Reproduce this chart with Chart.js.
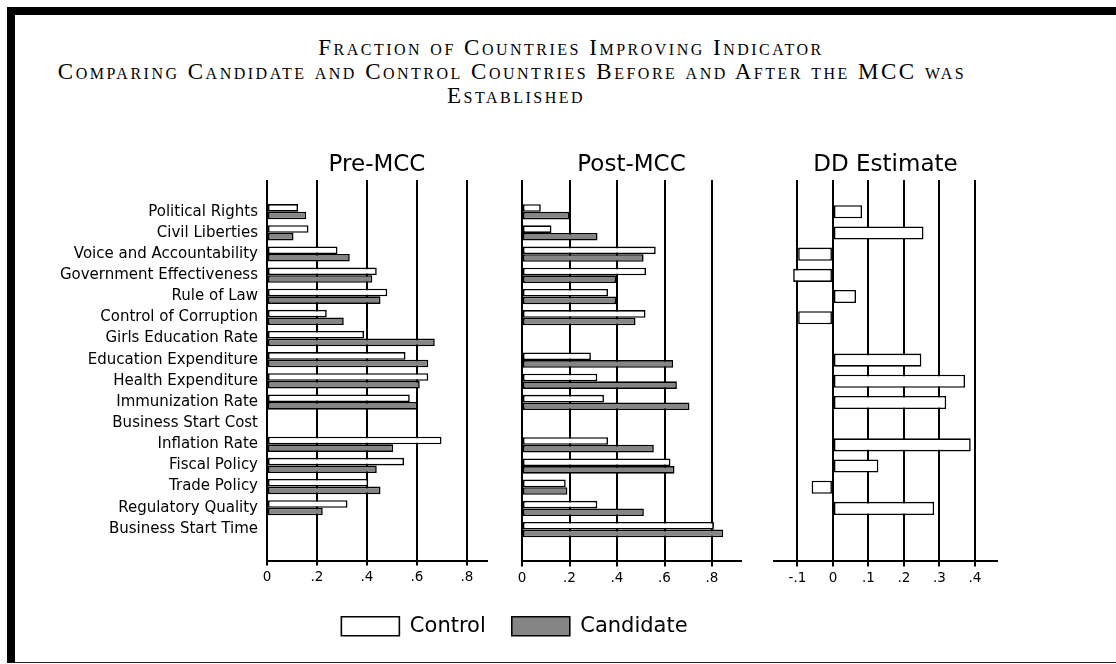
<!DOCTYPE html>
<html>
<head>
<meta charset="utf-8">
<script src="https://cdn.jsdelivr.net/npm/chart.js@4.4.1/dist/chart.umd.min.js"></script>
<style>
  body { margin: 0; background: #fff; width: 1116px; height: 664px; overflow: hidden; position: relative; }
  .frame { position: absolute; left: 7px; top: 7px; width: 1200px; height: 656px; box-sizing: border-box;
           border-top: 8px solid #000; border-left: 8px solid #000; border-bottom: 1px solid #222; }
  .title { position: absolute; font-family: "Liberation Serif", serif; font-variant: small-caps; font-size: 23px;
           letter-spacing: 2.5px; line-height: 24px; white-space: nowrap; transform: translateX(-50%); color: #000; }
  .box { position: absolute; }
</style>
</head>
<body>
<div class="frame"></div>
<div class="title" style="left:571px; top:36px">Fraction of Countries Improving Indicator</div>
<div class="title" style="left:512px; top:60px">Comparing Candidate and Control Countries Before and After the MCC was</div>
<div class="title" style="left:516px; top:84px">Established</div>

<div class="box" style="left:0px; top:150px; width:1029px; height:500px"><canvas id="pre"></canvas></div>
<div class="box" style="left:502px; top:150px; width:259px; height:442px"><canvas id="post"></canvas></div>
<div class="box" style="left:754px; top:150px; width:263px; height:442px"><canvas id="dd"></canvas></div>

<script>
const categories = ['Political Rights', 'Civil Liberties', 'Voice and Accountability', 'Government Effectiveness',
  'Rule of Law', 'Control of Corruption', 'Girls Education Rate', 'Education Expenditure', 'Health Expenditure',
  'Immunization Rate', 'Business Start Cost', 'Inflation Rate', 'Fiscal Policy', 'Trade Policy',
  'Regulatory Quality', 'Business Start Time'];

const seriesNames = ['Control', 'Candidate'];
const panelTitles = ['Pre-MCC', 'Post-MCC', 'DD Estimate'];

const preControl    = [0.124, 0.166, 0.282, 0.439, 0.481, 0.239, 0.388, 0.554, 0.645, 0.571, null, 0.698, 0.548, 0.405, 0.322, null];
const preCandidate  = [0.157, 0.106, 0.331, 0.421, 0.454, 0.307, 0.671, 0.645, 0.611, 0.601, null, 0.505, 0.439, 0.454, 0.223, null];
const postControl   = [0.079, 0.124, 0.563, 0.522, 0.362, 0.520, null, 0.290, 0.317, 0.345, null, 0.362, 0.625, 0.184, 0.317, 0.808];
const postCandidate = [0.199, 0.318, 0.512, 0.396, 0.396, 0.478, null, 0.636, 0.652, 0.705, null, 0.555, 0.642, 0.191, 0.513, 0.847];
const ddEstimate    = [0.082, 0.255, -0.098, -0.112, 0.065, -0.098, null, 0.249, 0.372, 0.319, null, 0.388, 0.128, -0.060, 0.285, null];

// axis ranges and tick steps per panel
const preRange = [0, 0.88], preStep = 0.2;
const postRange = [0, 0.922], postStep = 0.2;
const ddRange = [-0.166, 0.462], ddStep = 0.1;

const FONT = 'DejaVu Sans';
Chart.defaults.font.family = FONT;
Chart.defaults.color = '#000';

function rows(values) {
  return values.map((v, i) => ({x: v, y: i})).filter(p => p.x !== null);
}

// 0.2 -> ".2", -0.1 -> "-.1"
function tickText(v) {
  const s = String(Math.round(v * 10) / 10);
  return s.replace(/^(-?)0\./, '$1.');
}

function bars(label, values, fill, pct) {
  return {
    label: label,
    data: rows(values),
    backgroundColor: fill,
    borderColor: '#000',
    borderWidth: 1.6,
    borderSkipped: false,
    barPercentage: 1,
    categoryPercentage: pct,
    xAxisID: 'x',
    yAxisID: 'y'
  };
}

function panelOptions(title, range, step, pad) {
  return {
    indexAxis: 'y',
    responsive: true,
    maintainAspectRatio: false,
    animation: false,
    layout: { padding: pad },
    plugins: { legend: { display: false }, tooltip: { enabled: false } },
    scales: {
      xt: {
        type: 'linear', position: 'top',
        grid: { display: false, drawTicks: false },
        ticks: { display: false },
        border: { display: false },
        title: { display: true, text: title, color: '#000', font: { family: FONT, size: 23 }, padding: { top: 0, bottom: 1.2 } }
      },
      x: {
        type: 'linear', position: 'bottom',
        min: range[0], max: range[1],
        grid: { color: '#000', lineWidth: 2, tickLength: 5 },
        border: { color: '#000', width: 2 },
        ticks: { stepSize: step, includeBounds: false, padding: 4, color: '#000', font: { size: 13.5 }, callback: tickText }
      },
      y: {
        type: 'linear', min: -1, max: 16, reverse: true, display: false,
        ticks: { stepSize: 1 }
      }
    }
  };
}

// Pre-MCC panel: carries the category labels and the legend
const preOpts = panelOptions(panelTitles[0], preRange, preStep, { top: 1.2, bottom: 3.2, left: 0, right: 0 });
preOpts.scales.y = {
  type: 'linear', min: -1, max: 16, reverse: true, position: 'left',
  grid: { display: false, drawTicks: false },
  border: { display: false },
  ticks: { stepSize: 1, autoSkip: false, padding: 9, color: '#000', font: { size: 15 },
           callback: v => categories[v] || '' },
  afterFit: s => { s.width = 267; }
};
preOpts.scales.yPad = {
  type: 'linear', position: 'right',
  grid: { display: false, drawTicks: false },
  ticks: { display: false },
  border: { display: false },
  afterFit: s => { s.width = 542; }
};
preOpts.plugins.legend = {
  display: true,
  position: 'bottom',
  labels: { boxWidth: 58, boxHeight: 19, padding: 26, color: '#000', font: { size: 21 } }
};

new Chart(document.getElementById('pre'), {
  type: 'bar',
  data: {
    datasets: [
      bars(seriesNames[0], preControl, '#ffffff', 0.72),
      bars(seriesNames[1], preCandidate, '#858585', 0.72)
    ]
  },
  options: preOpts
});

new Chart(document.getElementById('post'), {
  type: 'bar',
  data: {
    datasets: [
      bars(seriesNames[0], postControl, '#ffffff', 0.72),
      bars(seriesNames[1], postCandidate, '#858585', 0.72)
    ]
  },
  options: panelOptions(panelTitles[1], postRange, postStep, { top: 1.2, bottom: 1.4, left: 20, right: 20 })
});

new Chart(document.getElementById('dd'), {
  type: 'bar',
  data: {
    datasets: [
      bars('DD Estimate', ddEstimate, '#ffffff', 0.62)
    ]
  },
  options: panelOptions(panelTitles[2], ddRange, ddStep, { top: 1.2, bottom: 1.4, left: 20, right: 20 })
});
</script>
</body>
</html>
